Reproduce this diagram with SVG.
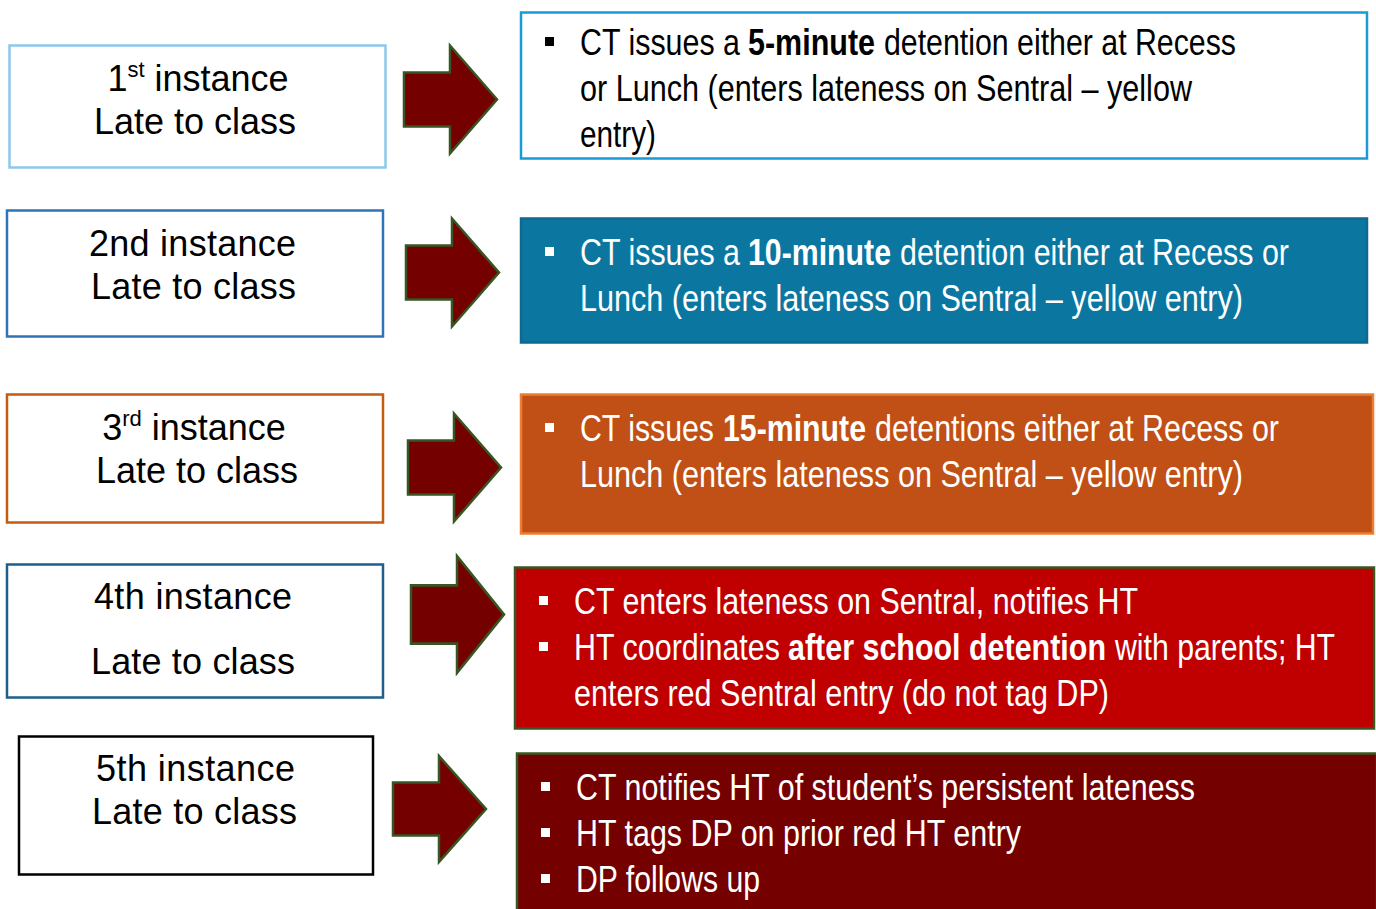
<svg xmlns="http://www.w3.org/2000/svg" width="1376" height="909" viewBox="0 0 1376 909">
<defs>
<style>
.lt{font-family:"Liberation Sans",Arial,sans-serif;font-size:36px;fill:#000;text-anchor:middle}
.rt{font-family:"Liberation Sans",Arial,sans-serif;font-size:36px}
.w{fill:#fff}
.k{fill:#000}
.b{font-weight:bold}
.arrow{fill:#750000;stroke:#375623;stroke-width:2.5;stroke-linejoin:miter}
</style>
<path id="arr" d="M0,-27 H46 V-54 L93,0 L46,54 V27 H0 Z"/>
</defs>
<rect width="1376" height="909" fill="#fff"/>

<g id="left1">
<rect x="9.5" y="45.5" width="376" height="122" fill="#fff" stroke="#8cc8ea" stroke-width="2.5"/>
<text class="lt" x="198" y="91">1<tspan font-size="22" dy="-14">st</tspan><tspan dy="14"> instance</tspan></text>
<text class="lt" x="195" y="134" textLength="202">Late to class</text>
</g>
<g id="left2">
<rect x="7" y="210.5" width="376" height="126" fill="#fff" stroke="#2e75b6" stroke-width="2.5"/>
<text class="lt" x="192.5" y="256" textLength="207">2nd instance</text>
<text class="lt" x="193.5" y="299" textLength="205">Late to class</text>
</g>
<g id="left3">
<rect x="7" y="394.5" width="376" height="128" fill="#fff" stroke="#c55a11" stroke-width="2.5"/>
<text class="lt" x="194" y="440">3<tspan font-size="22" dy="-14">rd</tspan><tspan dy="14"> instance</tspan></text>
<text class="lt" x="197" y="483" textLength="202">Late to class</text>
</g>
<g id="left4">
<rect x="7" y="564.5" width="376" height="133" fill="#fff" stroke="#1f5f8b" stroke-width="2.5"/>
<text class="lt" x="193" y="609" textLength="198">4th instance</text>
<text class="lt" x="193" y="674" textLength="204">Late to class</text>
</g>
<g id="left5">
<rect x="19" y="736.5" width="354" height="138" fill="#fff" stroke="#000" stroke-width="2.5"/>
<text class="lt" x="195.5" y="781" textLength="199">5th instance</text>
<text class="lt" x="194.5" y="824" textLength="205">Late to class</text>
</g>

<g id="connectors">
<use href="#arr" class="arrow" transform="translate(404,99.5)"/>
<use href="#arr" class="arrow" transform="translate(406,272.5)"/>
<use href="#arr" class="arrow" transform="translate(408,467.5)"/>
<use href="#arr" class="arrow" transform="translate(411,614.5) scale(1,1.08)"/>
<use href="#arr" class="arrow" transform="translate(393,809) scale(1,0.98)"/>
</g>

<g id="right1">
<rect x="521" y="12.5" width="846" height="146" fill="#fff" stroke="#1a9ad6" stroke-width="2.5"/>
<rect x="545" y="37" width="9" height="9" class="k"/>
<text class="rt k" x="580" y="55" textLength="160" lengthAdjust="spacingAndGlyphs">CT issues a</text>
<text class="rt k b" x="748" y="55" textLength="127" lengthAdjust="spacingAndGlyphs">5-minute</text>
<text class="rt k" x="884" y="55" textLength="352" lengthAdjust="spacingAndGlyphs">detention either at Recess</text>
<text class="rt k" x="580" y="101" textLength="612" lengthAdjust="spacingAndGlyphs">or Lunch (enters lateness on Sentral – yellow</text>
<text class="rt k" x="580" y="147" textLength="76" lengthAdjust="spacingAndGlyphs">entry)</text>
</g>
<g id="right2">
<rect x="521" y="218.5" width="846" height="124" fill="#0b77a1" stroke="#0f6890" stroke-width="2.5"/>
<rect x="545" y="247" width="9" height="9" class="w"/>
<text class="rt w" x="580" y="265" textLength="160" lengthAdjust="spacingAndGlyphs">CT issues a</text>
<text class="rt w b" x="748" y="265" textLength="143" lengthAdjust="spacingAndGlyphs">10-minute</text>
<text class="rt w" x="900" y="265" textLength="389" lengthAdjust="spacingAndGlyphs">detention either at Recess or</text>
<text class="rt w" x="580" y="311" textLength="663" lengthAdjust="spacingAndGlyphs">Lunch (enters lateness on Sentral – yellow entry)</text>
</g>
<g id="right3">
<rect x="521" y="394.5" width="852" height="139" fill="#c05016" stroke="#ed7d31" stroke-width="2.5"/>
<rect x="545" y="423" width="9" height="9" class="w"/>
<text class="rt w" x="580" y="441" textLength="134" lengthAdjust="spacingAndGlyphs">CT issues</text>
<text class="rt w b" x="723" y="441" textLength="143" lengthAdjust="spacingAndGlyphs">15-minute</text>
<text class="rt w" x="875" y="441" textLength="404" lengthAdjust="spacingAndGlyphs">detentions either at Recess or</text>
<text class="rt w" x="580" y="487" textLength="663" lengthAdjust="spacingAndGlyphs">Lunch (enters lateness on Sentral – yellow entry)</text>
</g>
<g id="right4">
<rect x="515" y="567.5" width="859" height="161" fill="#c00000" stroke="#385723" stroke-width="2.5"/>
<rect x="539" y="596" width="9" height="9" class="w"/>
<rect x="539" y="642" width="9" height="9" class="w"/>
<text class="rt w" x="574" y="614" textLength="564" lengthAdjust="spacingAndGlyphs">CT enters lateness on Sentral, notifies HT</text>
<text class="rt w" x="574" y="660" textLength="206" lengthAdjust="spacingAndGlyphs">HT coordinates</text>
<text class="rt w b" x="788" y="660" textLength="318" lengthAdjust="spacingAndGlyphs">after school detention</text>
<text class="rt w" x="1115" y="660" textLength="220" lengthAdjust="spacingAndGlyphs">with parents; HT</text>
<text class="rt w" x="574" y="706" textLength="535" lengthAdjust="spacingAndGlyphs">enters red Sentral entry (do not tag DP)</text>
</g>
<g id="right5">
<rect x="517" y="753.5" width="860" height="160" fill="#750000" stroke="#385723" stroke-width="2.5"/>
<rect x="541" y="782" width="9" height="9" class="w"/>
<rect x="541" y="828" width="9" height="9" class="w"/>
<rect x="541" y="874" width="9" height="9" class="w"/>
<text class="rt w" x="576" y="800" textLength="619" lengthAdjust="spacingAndGlyphs">CT notifies HT of student’s persistent lateness</text>
<text class="rt w" x="576" y="846" textLength="445" lengthAdjust="spacingAndGlyphs">HT tags DP on prior red HT entry</text>
<text class="rt w" x="576" y="892" textLength="184" lengthAdjust="spacingAndGlyphs">DP follows up</text>
</g>
</svg>
